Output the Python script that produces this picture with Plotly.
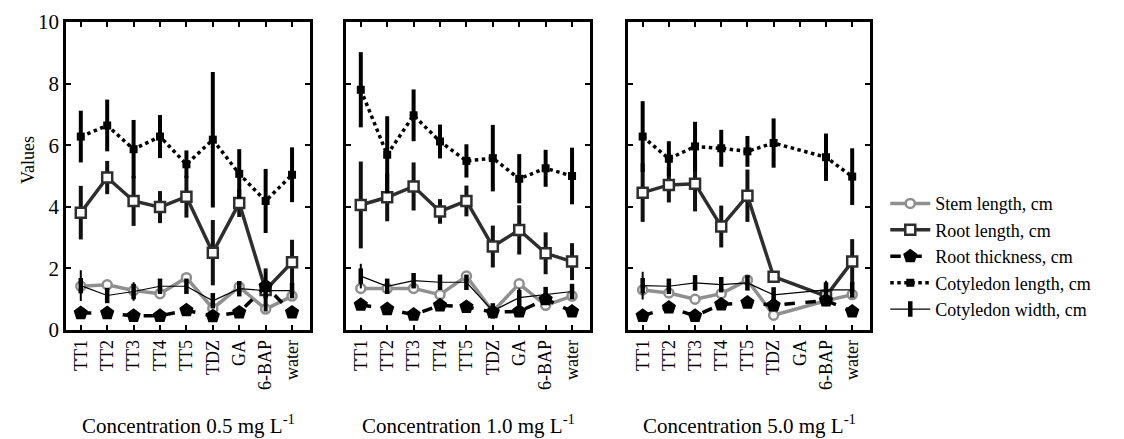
import plotly.graph_objects as go

categories = ["TT1", "TT2", "TT3", "TT4", "TT5", "TDZ", "GA", "6-BAP", "water"]
panel_titles = ["Concentration 0.5 mg L<sup>-1</sup>",
                "Concentration 1.0 mg L<sup>-1</sup>",
                "Concentration 5.0 mg L<sup>-1</sup>"]

# Concentration 0.5
stem_05 = [1.42, 1.47, 1.28, 1.18, 1.70, 0.70, 1.40, 0.68, 1.10]
root_len_05 = [3.81, 4.95, 4.19, 3.99, 4.33, 2.51, 4.12, 1.30, 2.20]
root_len_err_05 = [0.87, 0.54, 0.81, 0.52, 0.68, 1.06, 0.45, 0.70, 0.73]
root_thk_05 = [0.55, 0.55, 0.46, 0.46, 0.64, 0.45, 0.57, 1.42, 0.57]
cot_len_05 = [6.28, 6.64, 5.87, 6.28, 5.38, 6.18, 5.07, 4.19, 5.04]
cot_len_err_05 = [0.84, 0.84, 0.95, 0.70, 0.45, 2.20, 0.80, 1.04, 0.89]
cot_wid_05 = [1.44, 1.12, 1.25, 1.42, 1.42, 0.95, 1.34, 1.28, 1.28]
cot_wid_err_05 = [0.50, 0.20, 0.30, 0.15, 0.15, 0.20, 0.15, 0.60, 0.20]

# Concentration 1.0
stem_10 = [1.35, 1.35, 1.35, 1.15, 1.75, 0.60, 1.50, 0.80, 1.10]
root_len_10 = [4.06, 4.31, 4.66, 3.85, 4.19, 2.71, 3.25, 2.49, 2.22]
root_len_err_10 = [1.41, 0.78, 0.78, 0.40, 0.50, 0.68, 0.80, 0.68, 0.60]
root_thk_10 = [0.82, 0.68, 0.50, 0.80, 0.75, 0.58, 0.60, 1.00, 0.60]
cot_len_10 = [7.80, 5.69, 6.97, 6.12, 5.49, 5.58, 4.91, 5.25, 5.00]
cot_len_err_10 = [1.22, 1.25, 0.84, 0.55, 0.54, 1.08, 0.80, 0.60, 0.92]
cot_wid_10 = [1.75, 1.42, 1.60, 1.55, 1.55, 0.62, 1.05, 1.15, 1.25]
cot_wid_err_10 = [0.40, 0.20, 0.20, 0.20, 0.20, 0.10, 0.30, 0.20, 0.20]

# Concentration 5.0 (GA missing)
stem_50 = [1.30, 1.20, 1.00, 1.18, 1.62, 0.48, None, 0.95, 1.15]
root_len_50 = [4.46, 4.71, 4.75, 3.36, 4.36, 1.73, None, 1.10, 2.22]
root_len_err_50 = [0.95, 0.57, 0.90, 0.68, 0.85, 0.10, None, 0.20, 0.73]
root_thk_50 = [0.46, 0.73, 0.46, 0.83, 0.89, 0.80, None, 0.96, 0.60]
cot_len_50 = [6.28, 5.56, 5.96, 5.90, 5.80, 6.07, None, 5.61, 4.98]
cot_len_err_50 = [1.15, 0.57, 0.80, 0.60, 0.50, 0.80, None, 0.77, 0.92]
cot_wid_50 = [1.44, 1.42, 1.53, 1.47, 1.53, 1.14, None, 1.30, 1.30]
cot_wid_err_50 = [0.45, 0.20, 0.25, 0.15, 0.10, 0.20, None, 0.30, 0.20]

panels = [
    (stem_05, root_len_05, root_len_err_05, root_thk_05, cot_len_05, cot_len_err_05, cot_wid_05, cot_wid_err_05),
    (stem_10, root_len_10, root_len_err_10, root_thk_10, cot_len_10, cot_len_err_10, cot_wid_10, cot_wid_err_10),
    (stem_50, root_len_50, root_len_err_50, root_thk_50, cot_len_50, cot_len_err_50, cot_wid_50, cot_wid_err_50),
]

FONT = "Liberation Serif"
W, H = 1124, 439
ML, MR, MT, MB = 58, 262, 14, 117
pw = W - ML - MR
ph = H - MT - MB
px_domains = [(58, 302), (338, 582), (620, 862)]
domains = [((a - ML) / pw, (b - ML) / pw) for a, b in px_domains]

fig = go.Figure()
xs = list(range(len(categories)))

for i, (stem, rl, rle, rt, cl, cle, cw, cwe) in enumerate(panels):
    xa = "x" if i == 0 else f"x{i+1}"
    ya = "y" if i == 0 else f"y{i+1}"
    show = i == 0
    fig.add_trace(go.Scatter(
        x=xs, y=stem, xaxis=xa, yaxis=ya, name="Stem length, cm", legendgroup="s",
        showlegend=show, connectgaps=True, mode="lines+markers",
        line=dict(color="#8f8f8f", width=3.5),
        marker=dict(symbol="circle", size=9, color="white", line=dict(color="#8f8f8f", width=2.5))))
    fig.add_trace(go.Scatter(
        x=xs, y=rl, xaxis=xa, yaxis=ya, name="Root length, cm", legendgroup="rl",
        showlegend=show, connectgaps=True, mode="lines+markers",
        line=dict(color="#2e2e2e", width=3.5),
        error_y=dict(type="data", array=rle, thickness=4, width=0, color="#111"),
        marker=dict(symbol="square", size=10, color="white", line=dict(color="#2e2e2e", width=2.5))))
    fig.add_trace(go.Scatter(
        x=xs, y=rt, xaxis=xa, yaxis=ya, name="Root thickness, cm", legendgroup="rt",
        showlegend=show, connectgaps=True, mode="lines+markers",
        line=dict(color="black", width=3.5, dash="dash"),
        marker=dict(symbol="pentagon", size=15, color="black")))
    fig.add_trace(go.Scatter(
        x=xs, y=cl, xaxis=xa, yaxis=ya, name="Cotyledon length, cm", legendgroup="cl",
        showlegend=show, connectgaps=True, mode="lines+markers",
        line=dict(color="black", width=3.5, dash="dot"),
        error_y=dict(type="data", array=cle, thickness=4, width=0, color="black"),
        marker=dict(symbol="square", size=8, color="black")))
    fig.add_trace(go.Scatter(
        x=xs, y=cw, xaxis=xa, yaxis=ya, name="Cotyledon width, cm", legendgroup="cw",
        showlegend=show, connectgaps=True, mode="lines+markers",
        line=dict(color="black", width=1.2),
        error_y=dict(type="data", array=cwe, thickness=2, width=0, color="black"),
        marker=dict(symbol="line-ns", size=11, line=dict(color="black", width=4.5))))

for i in range(3):
    xk = "xaxis" if i == 0 else f"xaxis{i+1}"
    yk = "yaxis" if i == 0 else f"yaxis{i+1}"
    fig.layout[xk] = dict(
        domain=list(domains[i]), anchor="y" if i == 0 else f"y{i+1}",
        range=[-0.56, 8.68], tickmode="array", tickvals=xs, ticktext=categories,
        tickangle=-90, ticks="inside", ticklen=5, tickwidth=2, tickcolor="black",
        showline=True, linewidth=2.5, linecolor="black", mirror="ticks",
        showgrid=False, zeroline=False, automargin=False,
        tickfont=dict(family=FONT, size=18, color="black"))
    fig.layout[yk] = dict(
        anchor="x" if i == 0 else f"x{i+1}",
        range=[0, 10], dtick=2, ticks="inside", ticklen=5, tickwidth=2, tickcolor="black",
        showline=True, linewidth=2.5, linecolor="black", mirror="ticks",
        showgrid=False, zeroline=False, showticklabels=(i == 0), automargin=False,
        tickfont=dict(family=FONT, size=21, color="black"))
    cx = (domains[i][0] + domains[i][1]) / 2
    fig.add_annotation(x=cx, y=(H - MB - 416) / ph, xref="paper", yref="paper",
                       text=panel_titles[i], showarrow=False, xanchor="center", yanchor="middle",
                       font=dict(family=FONT, size=21, color="black"))

fig.add_annotation(x=(20 - ML) / pw, y=(H - MB - 152) / ph, xref="paper", yref="paper",
                   text="Values", textangle=-90, showarrow=False,
                   xanchor="center", yanchor="middle",
                   font=dict(family=FONT, size=18, color="black"))

fig.update_layout(
    width=W, height=H, margin=dict(l=ML, r=MR, t=MT, b=MB),
    paper_bgcolor="white", plot_bgcolor="white",
    font=dict(family=FONT, color="black"),
    legend=dict(x=1.019, y=0.47, xanchor="left", yanchor="top",
                font=dict(family=FONT, size=18, color="black"),
                tracegroupgap=0, itemwidth=40, bgcolor="rgba(0,0,0,0)"),
)

fig.write_html("out.html")
